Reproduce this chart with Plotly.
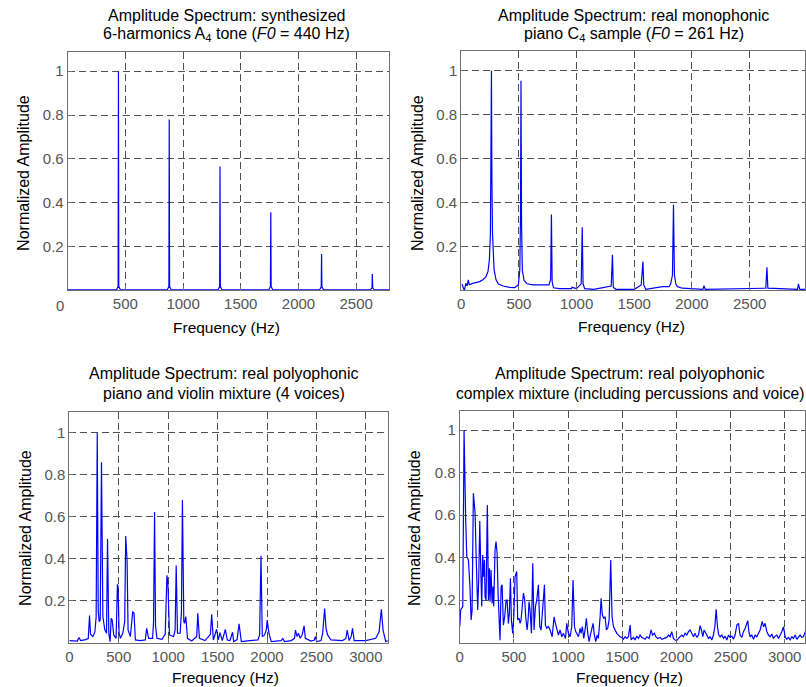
import plotly.graph_objects as go

W, H = 806, 687

# ---------------- data ----------------
# Panel 1: synthesized 6-harmonics A4 tone
p1_freq = [0, 424, 437, 440, 443, 456,
           864, 877, 880, 883, 896,
           1304, 1317, 1320, 1323, 1336,
           1744, 1757, 1760, 1763, 1776,
           2184, 2197, 2200, 2203, 2216,
           2624, 2637, 2640, 2643, 2656, 2785]
p1_amp = [0.003, 0.003, 0.018, 1.0, 0.018, 0.003,
          0.003, 0.018, 0.78, 0.018, 0.003,
          0.003, 0.018, 0.565, 0.018, 0.003,
          0.003, 0.018, 0.357, 0.018, 0.003,
          0.003, 0.016, 0.166, 0.016, 0.003,
          0.003, 0.012, 0.075, 0.012, 0.003, 0.003]

# Panel 2: real monophonic piano C4 sample
p2_freq = [6, 17, 27, 40, 52, 61, 70, 100, 130, 160,
           190, 215, 232, 244, 253, 258, 262, 266, 271, 285,
           302, 322, 365, 420, 465, 495, 508, 514, 518, 523,
           530, 545, 570, 620, 700, 760, 775, 782, 788, 800,
           850, 955, 960, 990, 1000, 1040, 1049, 1056, 1070, 1150,
           1300, 1311, 1318, 1340, 1500, 1560, 1575, 1582, 1600, 1745,
           1802, 1816, 1831, 1840, 1848, 1860, 1874, 1917, 2095, 2104,
           2115, 2640, 2650, 2658, 2915, 2923, 2935, 2980]
p2_amp = [0.029, 0.017, 0.0, 0.032, 0.02, 0.048, 0.026, 0.032, 0.035, 0.04,
          0.05, 0.063, 0.086, 0.139, 0.26, 0.5, 1.0, 0.5, 0.26, 0.093,
          0.048, 0.029, 0.02, 0.014, 0.013, 0.025, 0.093, 0.35, 0.955, 0.3,
          0.09, 0.045, 0.03, 0.025, 0.025, 0.025, 0.05, 0.345, 0.04, 0.012,
          0.008, 0.008, 0.014, 0.012, 0.008, 0.03, 0.287, 0.03, 0.008, 0.005,
          0.02, 0.162, 0.015, 0.005, 0.005, 0.025, 0.131, 0.025, 0.005, 0.017,
          0.017, 0.03, 0.07, 0.39, 0.07, 0.03, 0.017, 0.01, 0.005, 0.022,
          0.005, 0.01, 0.105, 0.01, 0.005, 0.03, 0.005, 0.005]

# Panel 3: piano and violin mixture (4 voices)
p3_freq = [0, 47, 80, 97, 114, 164, 191, 204, 214, 238,
           258, 271, 282, 292, 302, 312, 325, 339, 359, 376,
           386, 399, 412, 423, 433, 449, 473, 486, 493, 503,
           517, 540, 560, 570, 584, 594, 617, 641, 654, 668,
           718, 768, 782, 802, 842, 852, 862, 872, 886, 936,
           970, 987, 997, 1013, 1054, 1070, 1081, 1094, 1121, 1134,
           1144, 1158, 1165, 1178, 1195, 1238, 1289, 1299, 1316, 1373,
           1427, 1440, 1457, 1490, 1507, 1524, 1547, 1578, 1598, 1625,
           1651, 1663, 1697, 1717, 1740, 1824, 1908, 1925, 1939, 1952,
           1975, 1992, 2002, 2019, 2043, 2143, 2160, 2177, 2244, 2278,
           2288, 2304, 2318, 2335, 2355, 2375, 2388, 2445, 2479, 2489,
           2503, 2546, 2563, 2583, 2597, 2613, 2647, 2764, 2798, 2811,
           2831, 2852, 2865, 2882, 2999, 3100, 3134, 3157, 3174, 3201,
           3222]
p3_amp = [0.01, 0.01, 0.008, 0.025, 0.01, 0.015, 0.02, 0.129, 0.04, 0.03,
          0.05, 0.124, 1.0, 0.15, 0.1, 0.108, 0.859, 0.124, 0.06, 0.045,
          0.494, 0.045, 0.005, 0.116, 0.108, 0.037, 0.021, 0.278, 0.267, 0.045,
          0.021, 0.045, 0.1, 0.508, 0.389, 0.06, 0.029, 0.148, 0.14, 0.013,
          0.01, 0.013, 0.068, 0.021, 0.021, 0.1, 0.622, 0.08, 0.021, 0.016,
          0.04, 0.321, 0.283, 0.037, 0.029, 0.06, 0.367, 0.045, 0.045, 0.15,
          0.679, 0.1, 0.092, 0.124, 0.021, 0.008, 0.03, 0.14, 0.021, 0.01,
          0.04, 0.135, 0.013, 0.064, 0.013, 0.048, 0.01, 0.063, 0.013, 0.01,
          0.05, 0.005, 0.015, 0.09, 0.005, 0.01, 0.013, 0.037, 0.414, 0.029,
          0.037, 0.06, 0.108, 0.045, 0.005, 0.01, 0.02, 0.005, 0.01, 0.021,
          0.06, 0.029, 0.045, 0.021, 0.037, 0.08, 0.021, 0.008, 0.013, 0.029,
          0.005, 0.01, 0.045, 0.163, 0.068, 0.037, 0.013, 0.01, 0.02, 0.06,
          0.01, 0.03, 0.068, 0.01, 0.01, 0.021, 0.052, 0.159, 0.06, 0.005,
          0.01]

# Panel 4: complex mixture (percussions and voice)
p4_freq = [0, 9, 28, 40, 55, 65, 80, 95, 105, 114,
           126, 142, 151, 157, 166, 175, 185, 194, 203, 212,
           218, 228, 234, 243, 255, 265, 274, 280, 289, 299,
           308, 314, 326, 335, 345, 354, 363, 372, 382, 391,
           403, 415, 428, 437, 449, 458, 468, 477, 489, 499,
           511, 526, 535, 548, 557, 566, 588, 600, 609, 622,
           631, 640, 649, 662, 674, 686, 699, 711, 726, 739,
           751, 766, 782, 791, 803, 819, 834, 853, 871, 883,
           896, 911, 926, 942, 957, 976, 988, 1003, 1019, 1034,
           1046, 1052, 1059, 1071, 1083, 1096, 1111, 1120, 1132, 1145,
           1157, 1169, 1182, 1194, 1206, 1219, 1231, 1243, 1256, 1268,
           1280, 1296, 1305, 1317, 1329, 1342, 1354, 1366, 1379, 1394,
           1406, 1419, 1434, 1450, 1465, 1480, 1496, 1511, 1526, 1542,
           1557, 1573, 1582, 1603, 1619, 1634, 1650, 1665, 1680, 1696,
           1711, 1727, 1748, 1767, 1779, 1797, 1810, 1828, 1850, 1865,
           1890, 1911, 1927, 1942, 1957, 1973, 1988, 2004, 2019, 2034,
           2050, 2065, 2080, 2096, 2111, 2127, 2142, 2158, 2173, 2188,
           2204, 2219, 2231, 2244, 2256, 2268, 2281, 2296, 2311, 2327,
           2342, 2355, 2367, 2379, 2391, 2404, 2419, 2435, 2450, 2465,
           2481, 2496, 2512, 2527, 2542, 2558, 2573, 2588, 2604, 2619,
           2635, 2659, 2669, 2681, 2696, 2712, 2727, 2742, 2758, 2773,
           2792, 2804, 2819, 2835, 2850, 2866, 2881, 2896, 2912, 2927,
           2942, 2958, 2973, 2989, 3004, 3019, 3035, 3050, 3066, 3081,
           3096, 3112, 3127, 3142, 3158, 3173, 3189]
p4_amp = [0.075, 0.154, 0.17, 1.0, 0.58, 0.405, 0.39, 0.26, 0.107, 0.15,
          0.703, 0.609, 0.42, 0.248, 0.154, 0.295, 0.573, 0.358, 0.17, 0.413,
          0.311, 0.39, 0.217, 0.2, 0.648, 0.201, 0.35, 0.193, 0.342, 0.185,
          0.264, 0.17, 0.436, 0.476, 0.421, 0.232, 0.068, 0.012, 0.264, 0.272,
          0.083, 0.122, 0.2, 0.2, 0.09, 0.138, 0.303, 0.107, 0.044, 0.122,
          0.311, 0.335, 0.107, 0.115, 0.091, 0.107, 0.233, 0.201, 0.122, 0.06,
          0.107, 0.193, 0.154, 0.044, 0.374, 0.06, 0.17, 0.201, 0.272, 0.076,
          0.06, 0.17, 0.272, 0.083, 0.068, 0.076, 0.06, 0.028, 0.122, 0.091,
          0.06, 0.036, 0.06, 0.028, 0.044, 0.02, 0.091, 0.044, 0.028, 0.076,
          0.295, 0.13, 0.076, 0.052, 0.036, 0.028, 0.068, 0.044, 0.076, 0.02,
          0.06, 0.115, 0.044, 0.005, 0.036, 0.06, 0.091, 0.036, 0.005, 0.036,
          0.02, 0.122, 0.209, 0.13, 0.115, 0.122, 0.06, 0.068, 0.107, 0.389,
          0.122, 0.076, 0.06, 0.044, 0.036, 0.028, 0.025, 0.016, 0.028, 0.02,
          0.028, 0.083, 0.013, 0.025, 0.013, 0.031, 0.02, 0.036, 0.025, 0.02,
          0.016, 0.028, 0.02, 0.06, 0.036, 0.044, 0.028, 0.02, 0.025, 0.016,
          0.019, 0.025, 0.036, 0.028, 0.052, 0.02, 0.013, 0.01, 0.02, 0.028,
          0.036, 0.028, 0.044, 0.036, 0.052, 0.06, 0.045, 0.028, 0.044, 0.025,
          0.036, 0.08, 0.06, 0.028, 0.06, 0.044, 0.036, 0.02, 0.028, 0.013,
          0.036, 0.075, 0.157, 0.075, 0.036, 0.028, 0.036, 0.02, 0.031, 0.013,
          0.036, 0.025, 0.031, 0.016, 0.036, 0.083, 0.091, 0.036, 0.025, 0.052,
          0.068, 0.104, 0.052, 0.028, 0.036, 0.016, 0.036, 0.028, 0.044, 0.06,
          0.1, 0.075, 0.091, 0.052, 0.036, 0.028, 0.041, 0.02, 0.031, 0.036,
          0.02, 0.036, 0.052, 0.075, 0.028, 0.016, 0.025, 0.013, 0.028, 0.02,
          0.036, 0.016, 0.028, 0.036, 0.025, 0.028, 0.052]

titles = [
    ("Amplitude Spectrum: synthesized", "6-harmonics A<sub>4</sub> tone (<i>F0</i> = 440 Hz)"),
    ("Amplitude Spectrum: real monophonic", "piano C<sub>4</sub> sample (<i>F0</i> = 261 Hz)"),
    ("Amplitude Spectrum: real polyophonic", "piano and violin mixture (4 voices)"),
    ("Amplitude Spectrum: real polyophonic", "complex mixture (including percussions and voice)"),
]
x_label = "Frequency (Hz)"
y_label = "Normalized Amplitude"
y_ticks = [0.2, 0.4, 0.6, 0.8, 1]
y_ticktext = ["0.2", "0.4", "0.6", "0.8", "1"]
x_ticks_top = [0, 500, 1000, 1500, 2000, 2500]
x_ticks_bottom = [0, 500, 1000, 1500, 2000, 2500, 3000]

# ---------------- layout geometry (pixels) ----------------
FONT = "Liberation Sans, Arial, Helvetica, sans-serif"
panels = [
    dict(l=64, r=387, t=51.5, b=290.4, xmax=2785, ymax=1.09, xt=x_ticks_top[1:]),
    dict(l=459.5, r=805, t=51, b=290.4, xmax=2980, ymax=1.09, xt=x_ticks_top),
    dict(l=65.7, r=385.7, t=411.7, b=642.7, xmax=3222, ymax=1.1, xt=x_ticks_bottom),
    dict(l=458, r=805.3, t=411, b=642.7, xmax=3190, ymax=1.09, xt=x_ticks_bottom),
]
series = [(p1_freq, p1_amp), (p2_freq, p2_amp), (p3_freq, p3_amp), (p4_freq, p4_amp)]

fig = go.Figure()
layout = dict(
    width=W, height=H, margin=dict(l=0, r=0, t=0, b=0),
    paper_bgcolor="white", plot_bgcolor="white", showlegend=False,
    font=dict(family=FONT, size=15, color="black"),
)

def px(x):
    return x / W

def py(y):
    return 1 - y / H

annotations = []
for i, (p, (fx, fy)) in enumerate(zip(panels, series)):
    n = "" if i == 0 else str(i + 1)
    fig.add_trace(go.Scatter(x=fx, y=fy, mode="lines",
                             line=dict(color="#0000ff", width=1.2),
                             xaxis="x" + n, yaxis="y" + n, hoverinfo="skip"))
    common = dict(showline=True, mirror=True, linecolor="#707070", linewidth=1,
                  showgrid=True, gridcolor="#505050", griddash="7px,4px", gridwidth=1,
                  zeroline=False, ticks="inside", ticklen=4, tickcolor="#707070",
                  tickfont=dict(family=FONT, size=15, color="#555555"))
    layout["xaxis" + n] = dict(common, domain=[px(p["l"]), px(p["r"])],
                               range=[0, p["xmax"]], tickvals=p["xt"],
                               anchor="y" + n)
    layout["yaxis" + n] = dict(common, domain=[py(p["b"]), py(p["t"])],
                               range=[0, p["ymax"]], tickvals=y_ticks,
                               ticktext=y_ticktext, anchor="x" + n)

# Titles and axis labels (pixel positions)
title_pos = [(224, 16, 34), (633, 16, 34), (221, 373, 393), (629, 373, 393)]
title_size2 = [16, 16, 16, 15.6]
xlab_pos = [(224, 327), (631, 326), (223, 677), (629, 677)]
ylab_pos = [(19, 173), (415, 173), (21, 528), (412, 528)]
for (l1, l2), (tx, ty1, ty2), s2, (xx, xy), (yx, yy) in zip(titles, title_pos, title_size2,
                                                             xlab_pos, ylab_pos):
    for txt, yy_, sz in ((l1, ty1, 16), (l2, ty2, s2)):
        annotations.append(dict(text=txt, x=px(tx), y=py(yy_), xref="paper", yref="paper",
                                showarrow=False, xanchor="center", yanchor="middle",
                                font=dict(size=sz, color="black")))
    annotations.append(dict(text=x_label, x=px(xx), y=py(xy), xref="paper", yref="paper",
                            showarrow=False, xanchor="center", yanchor="middle",
                            font=dict(size=15.5, color="black")))
    annotations.append(dict(text=y_label, x=px(yx), y=py(yy), xref="paper", yref="paper",
                            showarrow=False, xanchor="center", yanchor="middle",
                            textangle=-90, font=dict(size=16, color="black")))
# the "0" label of panel 1 sits slightly left of the axis origin
annotations.append(dict(text="0", x=px(56), y=py(306), xref="paper", yref="paper",
                        showarrow=False, xanchor="center", yanchor="middle",
                        font=dict(size=15, color="#555555")))
layout["annotations"] = annotations
fig.update_layout(**layout)
fig.write_html("out.html", config={"displayModeBar": False},
               post_script="document.body.style.margin='0';document.body.style.padding='0';"
                           "document.body.style.overflow='hidden';")
